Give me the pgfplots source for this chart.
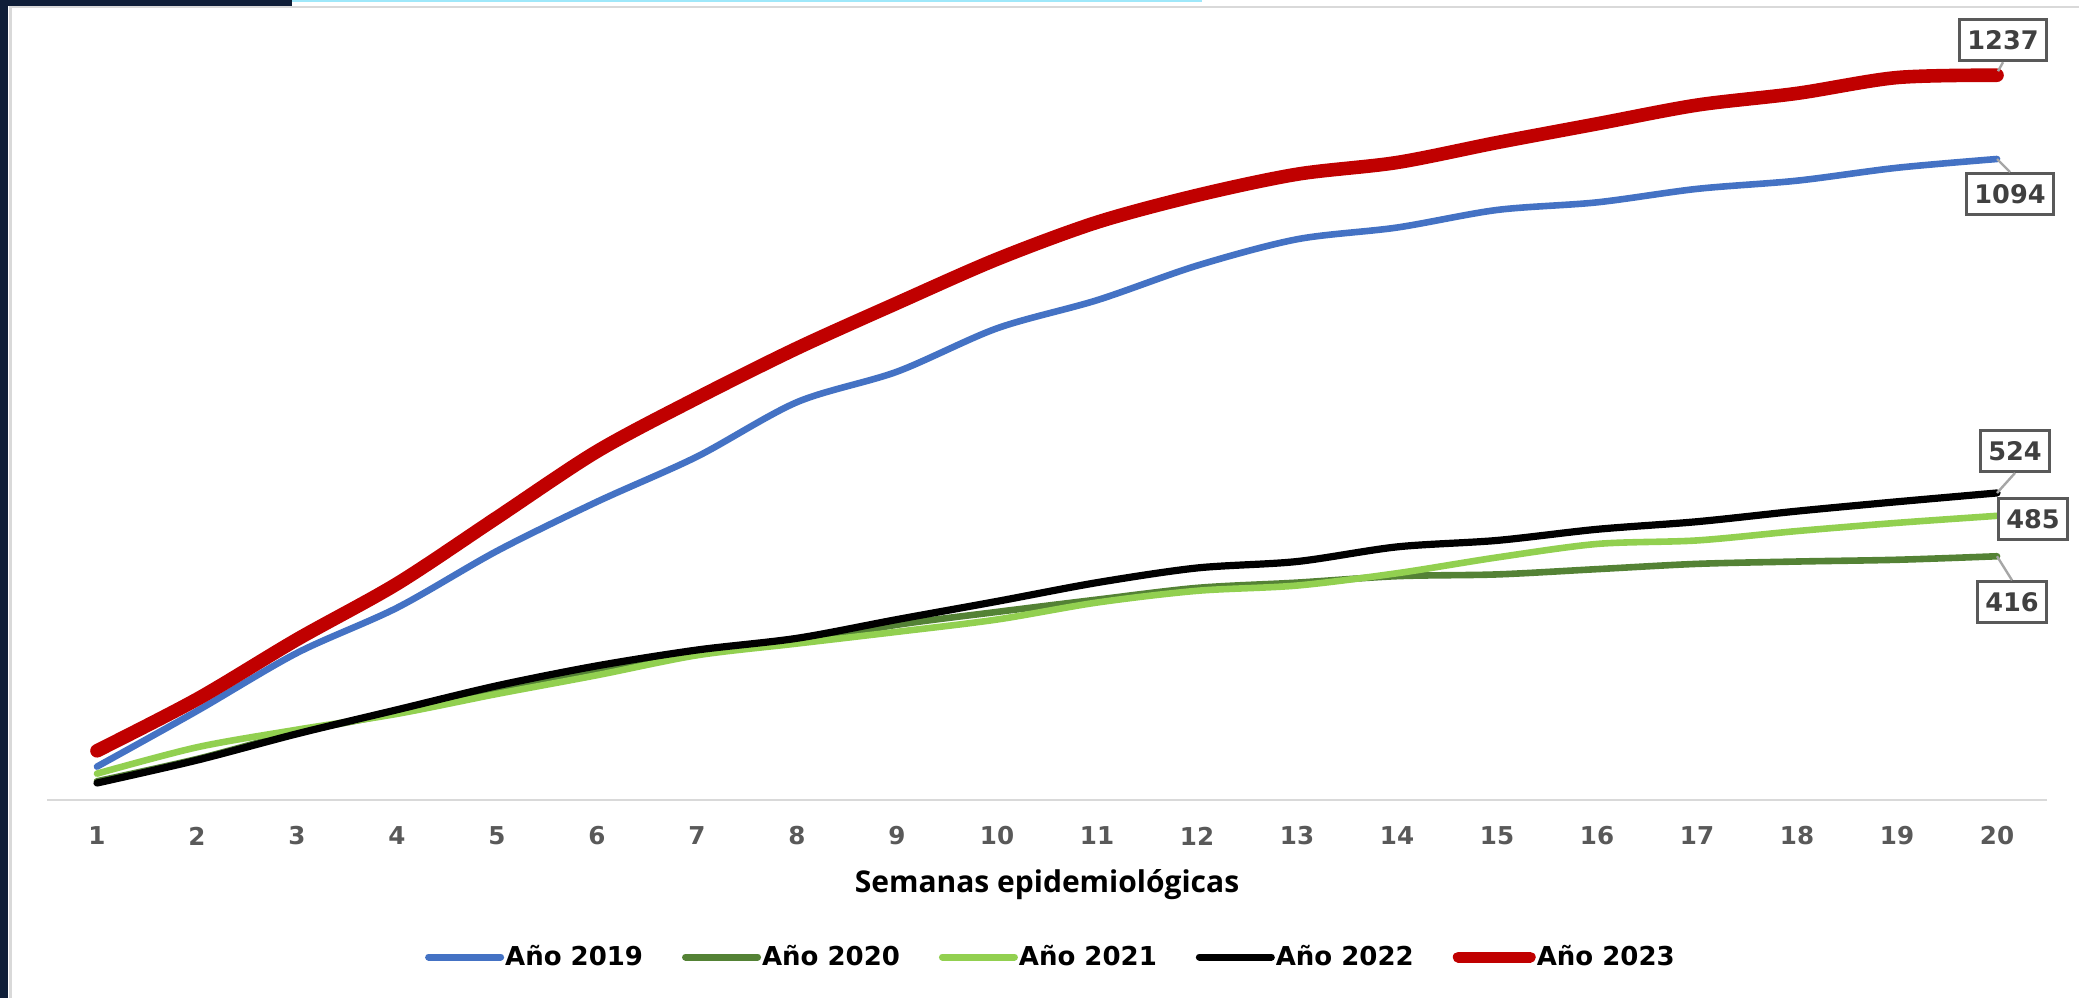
\documentclass[border=0pt]{standalone}
\usepackage{pgfplots}
\pgfplotsset{compat=1.18}
\usepackage{fontspec}
\setmainfont{DejaVu Sans}
\newfontfamily\titlefont{Open Sans}
\definecolor{cA}{HTML}{4472C4}
\definecolor{cB}{HTML}{548235}
\definecolor{cC}{HTML}{92D050}
\definecolor{cD}{HTML}{000000}
\definecolor{cE}{HTML}{C00000}
\definecolor{navy}{HTML}{0F1E38}
\definecolor{cyanl}{HTML}{9FE8FA}
\definecolor{framegray}{HTML}{D9D9D9}
\definecolor{tickgray}{HTML}{595959}
\definecolor{lblgray}{HTML}{404040}
\definecolor{boxgray}{HTML}{595959}
\definecolor{leadgray}{HTML}{A6A6A6}
\begin{document}
\begin{tikzpicture}[
  lbl/.style={draw=boxgray, line width=1.5pt, fill=white, text=lblgray,
    font=\bfseries\fontsize{12.8}{12.8}\selectfont, inner xsep=4pt, inner ysep=0pt,
    minimum height=20.5pt},
  lead/.style={draw=leadgray, line width=1.2pt}]
\path[use as bounding box] (0pt,0pt) rectangle (1039.5pt,499pt);
\fill[white] (0pt,0pt) rectangle (1039.5pt,499pt);
\fill[navy] (0pt,0pt) rectangle (4pt,499pt);
\fill[navy] (0pt,496pt) rectangle (146pt,499pt);
\fill[cyanl] (146pt,498pt) rectangle (601pt,499pt);
\draw[framegray, line width=1.2pt] (5.2pt,0pt) -- (5.2pt,495.5pt) -- (1039.5pt,495.5pt);
\begin{axis}[
  at={(23.5pt,99pt)}, anchor=south west,
  scale only axis, width=1000pt, height=395.5pt,
  xmin=0.5, xmax=20.5, ymin=0, ymax=1350,
  axis y line=none, axis x line=bottom,
  x axis line style={-, draw=framegray, line width=1.3pt},
  xtick={1,...,20}, major tick length=0pt,
  /pgf/number format/assume math mode=true,
  xticklabel style={font=\bfseries\fontsize{12.3}{12.3}\selectfont, text=tickgray, anchor=center, yshift=-18pt},
  xlabel={Semanas epidemiológicas},
  xlabel style={font=\titlefont\bfseries\fontsize{15}{15}\selectfont, at={(axis description cs:0.5,0)}, anchor=center, yshift=-42.5pt},
  legend columns=5,
  legend style={at={(axis description cs:0.5,0)}, anchor=center, xshift=1.7pt, yshift=-78.5pt, draw=none, fill=none,
    font=\bfseries\fontsize{13}{13}\selectfont, inner sep=0pt,
    nodes={inner sep=0.5pt},
    /tikz/every even column/.append style={column sep=19pt}},
  legend image code/.code={\draw[#1, line cap=round] (0pt,0pt) -- (36pt,0pt);},
  clip=false,
  every axis plot/.append style={smooth, tension=0.5, line cap=round, line join=round, no markers}
]
\addlegendimage{cA, line width=3.5pt}
\addlegendentry{Año 2019}
\addlegendimage{cB, line width=3.5pt}
\addlegendentry{Año 2020}
\addlegendimage{cC, line width=3.5pt}
\addlegendentry{Año 2021}
\addlegendimage{cD, line width=3.5pt}
\addlegendentry{Año 2022}
\addlegendimage{cE, line width=5.5pt}
\addlegendentry{Año 2023}
% 2019
\addplot[cA, line width=3.3pt, forget plot] coordinates {
(1,57) (2,152) (3,251) (4,328) (5,425) (6,509) (7,586) (8,679) (9,731) (10,805)
(11,853) (12,912) (13,957) (14,977) (15,1007) (16,1020) (17,1043) (18,1057) (19,1079) (20,1094)};
% 2020
\addplot[cB, line width=3.3pt, forget plot] coordinates {
(1,32) (2,70) (3,115) (4,149) (5,186) (6,219) (7,251) (8,269) (9,299) (10,321)
(11,342) (12,362) (13,371) (14,382) (15,385) (16,394) (17,403) (18,407) (19,410) (20,416)};
% 2021
\addplot[cC, line width=3.3pt, forget plot] coordinates {
(1,45) (2,90) (3,120) (4,147) (5,181) (6,213) (7,247) (8,267) (9,287) (10,308)
(11,337) (12,357) (13,366) (14,387) (15,414) (16,437) (17,443) (18,459) (19,473) (20,485)};
% 2022
\addplot[cD, line width=3.6pt, forget plot] coordinates {
(1,29) (2,68) (3,113) (4,154) (5,195) (6,229) (7,256) (8,276) (9,308) (10,339)
(11,371) (12,396) (13,407) (14,432) (15,443) (16,462) (17,475) (18,493) (19,509) (20,524)};
% 2023
\addplot[cE, line width=6.8pt, forget plot] coordinates {
(1,84) (2,172) (3,274) (4,369) (5,482) (6,595) (7,686) (8,771) (9,848) (10,923)
(11,986) (12,1032) (13,1068) (14,1088) (15,1122) (16,1154) (17,1186) (18,1206) (19,1233) (20,1237)};
% data labels
\node[lbl, xshift=3pt, yshift=17.5pt] (n1) at (axis cs:20,1237) {1237};
\draw[lead] (axis cs:20,1237) ++(0.5pt,2pt) -- (n1.south);
\node[lbl, xshift=6.5pt, yshift=-17.5pt] (n2) at (axis cs:20,1094) {1094};
\draw[lead] (axis cs:20,1094) -- (n2.north);
\node[lbl, xshift=9pt, yshift=21pt] (n3) at (axis cs:20,524) {524};
\draw[lead] (axis cs:20,524) -- (n3.south);
\node[lbl, xshift=18pt, yshift=-1.5pt] (n4) at (axis cs:20,485) {485};
\node[lbl, xshift=7.5pt, yshift=-23pt] (n5) at (axis cs:20,416) {416};
\draw[lead] (axis cs:20,416) -- (n5.north);
\end{axis}
\end{tikzpicture}
\end{document}
